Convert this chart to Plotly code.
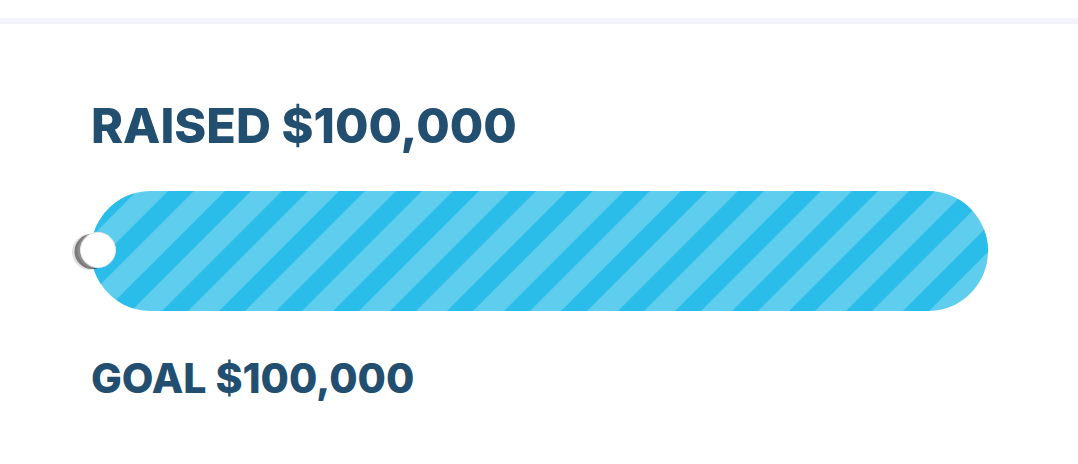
import numpy as np
import plotly.graph_objects as go

# Kampagnen-Werte
raised = 100000
goal = 100000
knob_value = 0
labels = ["RAISED", "GOAL"]

NAVY = "#224e70"
STRIPE_DARK = "#2bbde9"
STRIPE_LIGHT = "#5ecdee"

W, H = 1078, 464
BAR_L, BAR_R = 91, 988          # Pixelgrenzen des Balkens
BAR_TOP, BAR_BOT = 191, 311
R = (BAR_BOT - BAR_TOP) / 2
CY = (BAR_TOP + BAR_BOT) / 2

k = goal / (BAR_R - BAR_L)      # Dollar pro Pixel


def stadium(x0, x1, y0, y1, n=40):
    r = (y1 - y0) / 2
    cy = (y0 + y1) / 2
    pts = []
    for a in np.linspace(-np.pi / 2, np.pi / 2, n):
        pts.append((x1 - r + r * np.cos(a), cy + r * np.sin(a)))
    for a in np.linspace(np.pi / 2, 3 * np.pi / 2, n):
        pts.append((x0 + r + r * np.cos(a), cy + r * np.sin(a)))
    return pts


def clip(subject, clipper):
    # Sutherland-Hodgman, clipper konvex
    def inside(p, a, b):
        return (b[0] - a[0]) * (p[1] - a[1]) - (b[1] - a[1]) * (p[0] - a[0]) >= 0

    def inter(p, q, a, b):
        x1, y1 = p; x2, y2 = q; x3, y3 = a; x4, y4 = b
        d = (x1 - x2) * (y3 - y4) - (y1 - y2) * (x3 - x4)
        if abs(d) < 1e-12:
            return q
        t = ((x1 - x3) * (y3 - y4) - (y1 - y3) * (x3 - x4)) / d
        return (x1 + t * (x2 - x1), y1 + t * (y2 - y1))

    out = subject
    for i in range(len(clipper)):
        a, b = clipper[i], clipper[(i + 1) % len(clipper)]
        inp = out
        out = []
        if not inp:
            break
        s = inp[-1]
        for e in inp:
            if inside(e, a, b):
                if not inside(s, a, b):
                    out.append(inter(s, e, a, b))
                out.append(e)
            elif inside(s, a, b):
                out.append(inter(s, e, a, b))
            s = e
    return out


def to_path(pts):
    # Pixel-x -> Dollar-Achse
    return "M " + " L ".join(f"{(x - BAR_L) * k:.2f},{y:.2f}" for x, y in pts) + " Z"


bar_end_px = BAR_L + raised / goal * (BAR_R - BAR_L)
bar_poly = stadium(BAR_L, bar_end_px, BAR_TOP, BAR_BOT)

fig = go.Figure()
shapes = []

# Heller Hintergrund-Streifen oben
shapes.append(dict(type="rect", xref="paper", yref="y", x0=0, x1=1, y0=18, y1=24,
                   fillcolor="#f3f4f9", line_width=0, layer="below"))

# Balken (hell)
shapes.append(dict(type="path", path=to_path(bar_poly), fillcolor=STRIPE_LIGHT,
                   line_width=0, layer="below"))

# Dunkle Diagonalstreifen
period, dark_w = 57, 26
c = 644 - period * 12
while c < 1400:
    ya, yb = BAR_TOP - 10, BAR_BOT + 10
    stripe = [(c - ya, ya), (c + dark_w - ya, ya), (c + dark_w - yb, yb), (c - yb, yb)]
    poly = clip(stripe, bar_poly)
    if len(poly) > 2:
        shapes.append(dict(type="path", path=to_path(poly), fillcolor=STRIPE_DARK,
                           line_width=0, layer="below"))
    c += period

# Schieberegler-Knopf mit Schatten
kx = knob_value + 7 * k
kr = 17.5
ky = CY - 1
for dx, dy, rr, col in [(-8, 2, 18, "rgba(0,0,0,0.12)"),
                        (-6, 1.5, 17.5, "rgba(20,20,20,0.5)"),
                        (-3, 0.5, 17.5, "rgba(150,150,150,0.7)")]:
    shapes.append(dict(type="circle", x0=kx + (dx - rr) * k, x1=kx + (dx + rr) * k,
                       y0=ky + dy - rr, y1=ky + dy + rr, fillcolor=col, line_width=0))
shapes.append(dict(type="circle", x0=kx - kr * k, x1=kx + kr * k, y0=ky - kr, y1=ky + kr,
                   fillcolor="white", line=dict(color="#ececec", width=1)))

fig.add_annotation(x=-2 * k, y=157, xref="x", yref="y", xanchor="left", yanchor="bottom",
                   text=f"{labels[0]} ${raised:,}", showarrow=False,
                   font=dict(family="Inter", size=48.5, color=NAVY, weight=800))
fig.add_annotation(x=-2 * k, y=405, xref="x", yref="y", xanchor="left", yanchor="bottom",
                   text=f"{labels[1]} ${goal:,}", showarrow=False,
                   font=dict(family="Inter", size=41, color=NAVY, weight=800))

fig.update_layout(
    width=W, height=H,
    shapes=shapes,
    margin=dict(l=0, r=0, t=0, b=0),
    plot_bgcolor="white",
    paper_bgcolor="white",
    showlegend=False,
    xaxis=dict(range=[-BAR_L * k, (W - BAR_L) * k], visible=False, fixedrange=True),
    yaxis=dict(range=[H, 0], visible=False, fixedrange=True),
)

fig.write_html("out.html", config={"displayModeBar": False},
               post_script="document.body.style.margin='0';")
